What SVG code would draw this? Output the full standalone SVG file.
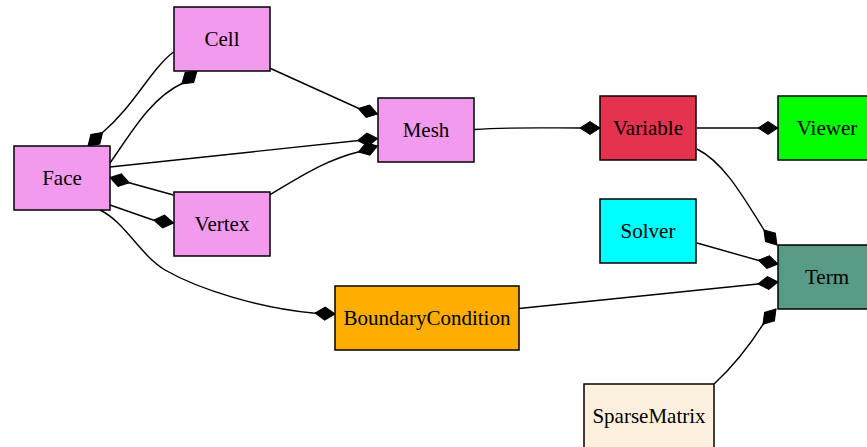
<svg xmlns="http://www.w3.org/2000/svg" width="867" height="447" viewBox="0 0 867 447">
<style>
.n rect{stroke:#000;stroke-width:1.5}
.n text{font-family:'Liberation Serif','Times New Roman',serif;font-size:21px;text-anchor:middle;fill:#000}
.e path{fill:none;stroke:#000;stroke-width:1.4;marker-end:url(#dia)}
.p{fill:#f29bee}
</style>
<defs>
<marker id="dia" markerUnits="userSpaceOnUse" markerWidth="24" markerHeight="16" viewBox="-22 -8 24 16" refX="0" refY="0" orient="auto">
<path d="M0,0 L-10,-6.5 L-20,0 L-10,6.5 Z" fill="#000" stroke="#000" stroke-width="1"/>
</marker>
</defs>
<g id="edges" class="e">
<path d="M173.5,52 C150,70 135,105 102,133 L88,146"/>
<path d="M110,163 C130,135 150,98 183,83 L197,71"/>
<path d="M110,167 L377.5,138.5"/>
<path d="M269.5,68 L360,109 L377.5,114"/>
<path d="M269.5,195 C300,177 325,160 360,151.5 L377.5,146"/>
<path d="M173.5,195 L130,183 L110,177.5"/>
<path d="M110,205 L153,220 L173.5,223"/>
<path d="M100,210 C125,222 140,255 165,270 C200,290 260,308 313,313 L335,314"/>
<path d="M474,129.5 C510,127 545,128 580,128 L600,128"/>
<path d="M697,128 L758,128 L778,128"/>
<path d="M697,149 C725,163 745,200 764,230 L777,245"/>
<path d="M697,243 L757,260 L778,264"/>
<path d="M519,308.5 L758,284 L778,282"/>
<path d="M714,384 C735,365 750,345 764,323 L776,309"/>
</g>
<g id="cell" class="n"><rect class="p" x="174" y="7" width="96" height="64"/><text x="222" y="46">Cell</text></g>
<g id="face" class="n"><rect class="p" x="14" y="146" width="96" height="64"/><text x="62" y="185">Face</text></g>
<g id="vertex" class="n"><rect class="p" x="174" y="192" width="96" height="64"/><text x="222" y="231">Vertex</text></g>
<g id="mesh" class="n"><rect class="p" x="378" y="98" width="96" height="64"/><text x="426" y="137">Mesh</text></g>
<g id="variable" class="n"><rect x="600" y="96" width="96" height="64" fill="#e4324f"/><text x="648" y="135">Variable</text></g>
<g id="viewer" class="n"><rect x="778" y="96" width="96" height="64" fill="#00ff00"/><text x="827" y="135">Viewer</text></g>
<g id="solver" class="n"><rect x="600" y="199" width="96" height="64" fill="#00ffff"/><text x="648" y="238">Solver</text></g>
<g id="term" class="n"><rect x="778" y="245" width="96" height="64" fill="#579a86"/><text x="827" y="284">Term</text></g>
<g id="boundarycondition" class="n"><rect x="335" y="286" width="184" height="64" fill="#ffae00"/><text x="427" y="325">BoundaryCondition</text></g>
<g id="sparsematrix" class="n"><rect x="584" y="384" width="130" height="64" fill="#fef0df"/><text x="649" y="423">SparseMatrix</text></g>
</svg>
